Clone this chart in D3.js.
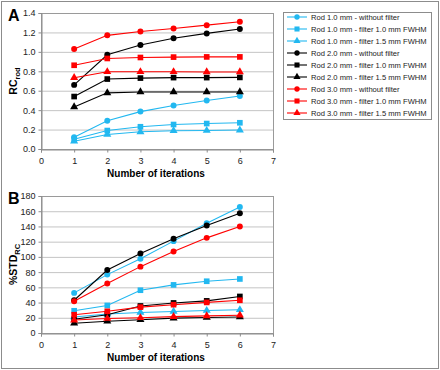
<!DOCTYPE html>
<html>
<head>
<meta charset="utf-8">
<script src="https://cdn.jsdelivr.net/npm/d3@7"></script>
<style>
  body { margin: 0; background: #fff; }
  text { font-family: "Liberation Sans", Arial, sans-serif; }
</style>
</head>
<body>
<div id="chart"></div>
<script>
const iterations = [1, 2, 3, 4, 5, 6];
const xTicks = [0, 1, 2, 3, 4, 5, 6, 7];

const seriesNames = [
  'Rod 1.0 mm - without filter',
  'Rod 1.0 mm - filter 1.0 mm FWHM',
  'Rod 1.0 mm - filter 1.5 mm FWHM',
  'Rod 2.0 mm - without filter',
  'Rod 2.0 mm - filter 1.0 mm FWHM',
  'Rod 2.0 mm - filter 1.5 mm FWHM',
  'Rod 3.0 mm - without filter',
  'Rod 3.0 mm - filter 1.0 mm FWHM',
  'Rod 3.0 mm - filter 1.5 mm FWHM'
];
const seriesColors = ['#22b8f0', '#22b8f0', '#22b8f0', '#000000', '#000000', '#000000', '#ff0000', '#ff0000', '#ff0000'];
const seriesShapes = ['circle', 'square', 'triangle', 'circle', 'square', 'triangle', 'circle', 'square', 'triangle'];

// panel A: RC rod
const rcRod10 = [0.12, 0.29, 0.385, 0.447, 0.50, 0.546];
const rcRod10f10 = [0.10, 0.19, 0.229, 0.252, 0.262, 0.27];
const rcRod10f15 = [0.08, 0.15, 0.177, 0.188, 0.19, 0.195];
const rcRod20 = [0.66, 0.97, 1.07, 1.14, 1.19, 1.235];
const rcRod20f10 = [0.54, 0.72, 0.73, 0.735, 0.735, 0.737];
const rcRod20f15 = [0.433, 0.578, 0.587, 0.587, 0.587, 0.587];
const rcRod30 = [1.03, 1.17, 1.21, 1.24, 1.275, 1.31];
const rcRod30f10 = [0.862, 0.932, 0.942, 0.946, 0.948, 0.948];
const rcRod30f15 = [0.734, 0.795, 0.795, 0.795, 0.793, 0.793];
const rcTicks = [0, 0.2, 0.4, 0.6, 0.8, 1.0, 1.2, 1.4];

// panel B: %STD RC
const stdRod10 = [52.7, 76.7, 97.6, 120.7, 144.3, 165.6];
const stdRod10f10 = [29.2, 36.2, 56.2, 63.2, 68, 71];
const stdRod10f15 = [21, 25, 27, 28.3, 29.5, 30.5];
const stdRod20 = [43, 82.8, 104.6, 123.8, 141.2, 157.4];
const stdRod20f10 = [18, 24, 35.5, 39.5, 42.2, 48];
const stdRod20f15 = [12.8, 15.4, 17.5, 19.5, 20.4, 21];
const stdRod30 = [41.8, 65, 87.2, 107.2, 125, 140];
const stdRod30f10 = [24, 28.5, 34, 37.2, 40.2, 43];
const stdRod30f15 = [17, 19, 20, 21.5, 22.5, 23.3];
const stdTicks = [0, 20, 40, 60, 80, 100, 120, 140, 160, 180];

const rcSeries = [rcRod10, rcRod10f10, rcRod10f15, rcRod20, rcRod20f10, rcRod20f15, rcRod30, rcRod30f10, rcRod30f15];
const stdSeries = [stdRod10, stdRod10f10, stdRod10f15, stdRod20, stdRod20f10, stdRod20f15, stdRod30, stdRod30f10, stdRod30f15];

const width = 440, height = 370;
const shapes = { circle: d3.symbolCircle, square: d3.symbolSquare, triangle: d3.symbolTriangle };
const shapeSize = { circle: 28, square: 32, triangle: 28 };

const svg = d3.select('#chart').append('svg')
  .attr('width', width)
  .attr('height', height);

svg.append('rect')
  .attr('x', 1.5).attr('y', 1.5)
  .attr('width', width - 3).attr('height', height - 3)
  .attr('fill', 'none').attr('stroke', '#8c8c8c');

function drawPanel(opts) {
  const { top, bottom, series, yTicks, yFormat, letter, yLabel, ySub } = opts;
  const left = 41, right = 273;

  const x = d3.scaleLinear().domain([0, 7]).range([left, right]);
  const y = d3.scaleLinear().domain([yTicks[0], yTicks[yTicks.length - 1]]).range([bottom, top]);

  const g = svg.append('g');

  // gridlines
  g.append('g').selectAll('line')
    .data(yTicks.slice(1))
    .enter().append('line')
    .attr('x1', left).attr('x2', right)
    .attr('y1', d => y(d) + 0.5).attr('y2', d => y(d) + 0.5)
    .attr('stroke', '#c4c4c4');

  // plot frame
  g.append('rect')
    .attr('x', left + 0.5).attr('y', top + 0.5)
    .attr('width', right - left).attr('height', bottom - top)
    .attr('fill', 'none').attr('stroke', '#9a9a9a');

  const xAxis = g.append('g')
    .attr('transform', 'translate(0,' + (bottom + 0.5) + ')')
    .call(d3.axisBottom(x).tickValues(xTicks).tickSize(3).tickFormat(d3.format('d')));
  const yAxis = g.append('g')
    .attr('transform', 'translate(' + (left + 0.5) + ',0)')
    .call(d3.axisLeft(y).tickValues(yTicks).tickSize(3).tickFormat(yFormat));

  [xAxis, yAxis].forEach(ax => {
    ax.select('.domain').attr('stroke', '#8c8c8c');
    ax.selectAll('.tick line').attr('stroke', '#8c8c8c');
    ax.selectAll('.tick text')
      .attr('font-size', 9)
      .attr('fill', '#222')
      .style('font-family', '"Liberation Sans", Arial, sans-serif');
  });
  xAxis.selectAll('.tick text').attr('dy', '0.95em');

  const line = d3.line()
    .x((d, i) => x(iterations[i]))
    .y(d => y(d));

  series.forEach((vals, k) => {
    g.append('path')
      .datum(vals)
      .attr('d', line)
      .attr('fill', 'none')
      .attr('stroke', seriesColors[k])
      .attr('stroke-width', 1.1);

    g.append('g').selectAll('path')
      .data(vals)
      .enter().append('path')
      .attr('transform', (d, i) => 'translate(' + x(iterations[i]) + ',' + y(d) + ')')
      .attr('d', d3.symbol().type(shapes[seriesShapes[k]]).size(shapeSize[seriesShapes[k]]))
      .attr('fill', seriesColors[k]);
  });

  // titles
  g.append('text')
    .attr('x', (left + right) / 2 - 1)
    .attr('y', bottom + 28)
    .attr('text-anchor', 'middle')
    .attr('font-size', 10)
    .attr('font-weight', 'bold')
    .text('Number of iterations');

  g.append('text')
    .attr('x', 8)
    .attr('y', top + 8)
    .attr('font-size', 16)
    .attr('font-weight', 'bold')
    .text(letter);

  const yl = g.append('text')
    .attr('transform', 'translate(17,' + ((top + bottom) / 2) + ') rotate(-90)')
    .attr('text-anchor', 'middle')
    .attr('font-size', 10.5)
    .attr('font-weight', 'bold');
  yl.append('tspan').text(yLabel);
  yl.append('tspan').attr('font-size', 7.5).attr('dy', 3).text(ySub);
}

drawPanel({
  top: 13, bottom: 149, series: rcSeries, yTicks: rcTicks,
  yFormat: d3.format('.1f'), letter: 'A', yLabel: 'RC', ySub: 'rod'
});

drawPanel({
  top: 196, bottom: 333, series: stdSeries, yTicks: stdTicks,
  yFormat: d3.format('d'), letter: 'B', yLabel: '%STD', ySub: 'RC'
});

// legend
const lgX = 283, lgY = 12, lgW = 148, lgH = 107;
const legend = svg.append('g');
legend.append('rect')
  .attr('x', lgX + 0.5).attr('y', lgY + 0.5)
  .attr('width', lgW).attr('height', lgH)
  .attr('fill', '#fff').attr('stroke', '#8c8c8c');

const rows = legend.selectAll('g.row')
  .data(seriesNames)
  .enter().append('g')
  .attr('class', 'row')
  .attr('transform', (d, i) => 'translate(' + lgX + ',' + (lgY + 5 + i * 12) + ')');

rows.append('line')
  .attr('x1', 4).attr('x2', 24)
  .attr('y1', 0).attr('y2', 0)
  .attr('stroke', (d, i) => seriesColors[i])
  .attr('stroke-width', 1.1);
rows.append('path')
  .attr('transform', 'translate(14,0)')
  .attr('d', (d, i) => d3.symbol().type(shapes[seriesShapes[i]]).size(shapeSize[seriesShapes[i]] * 0.8)())
  .attr('fill', (d, i) => seriesColors[i]);
rows.append('text')
  .attr('x', 28)
  .attr('y', 0)
  .attr('dy', '0.35em')
  .attr('font-size', 7.6)
  .attr('fill', '#222')
  .text(d => d);
</script>
</body>
</html>
